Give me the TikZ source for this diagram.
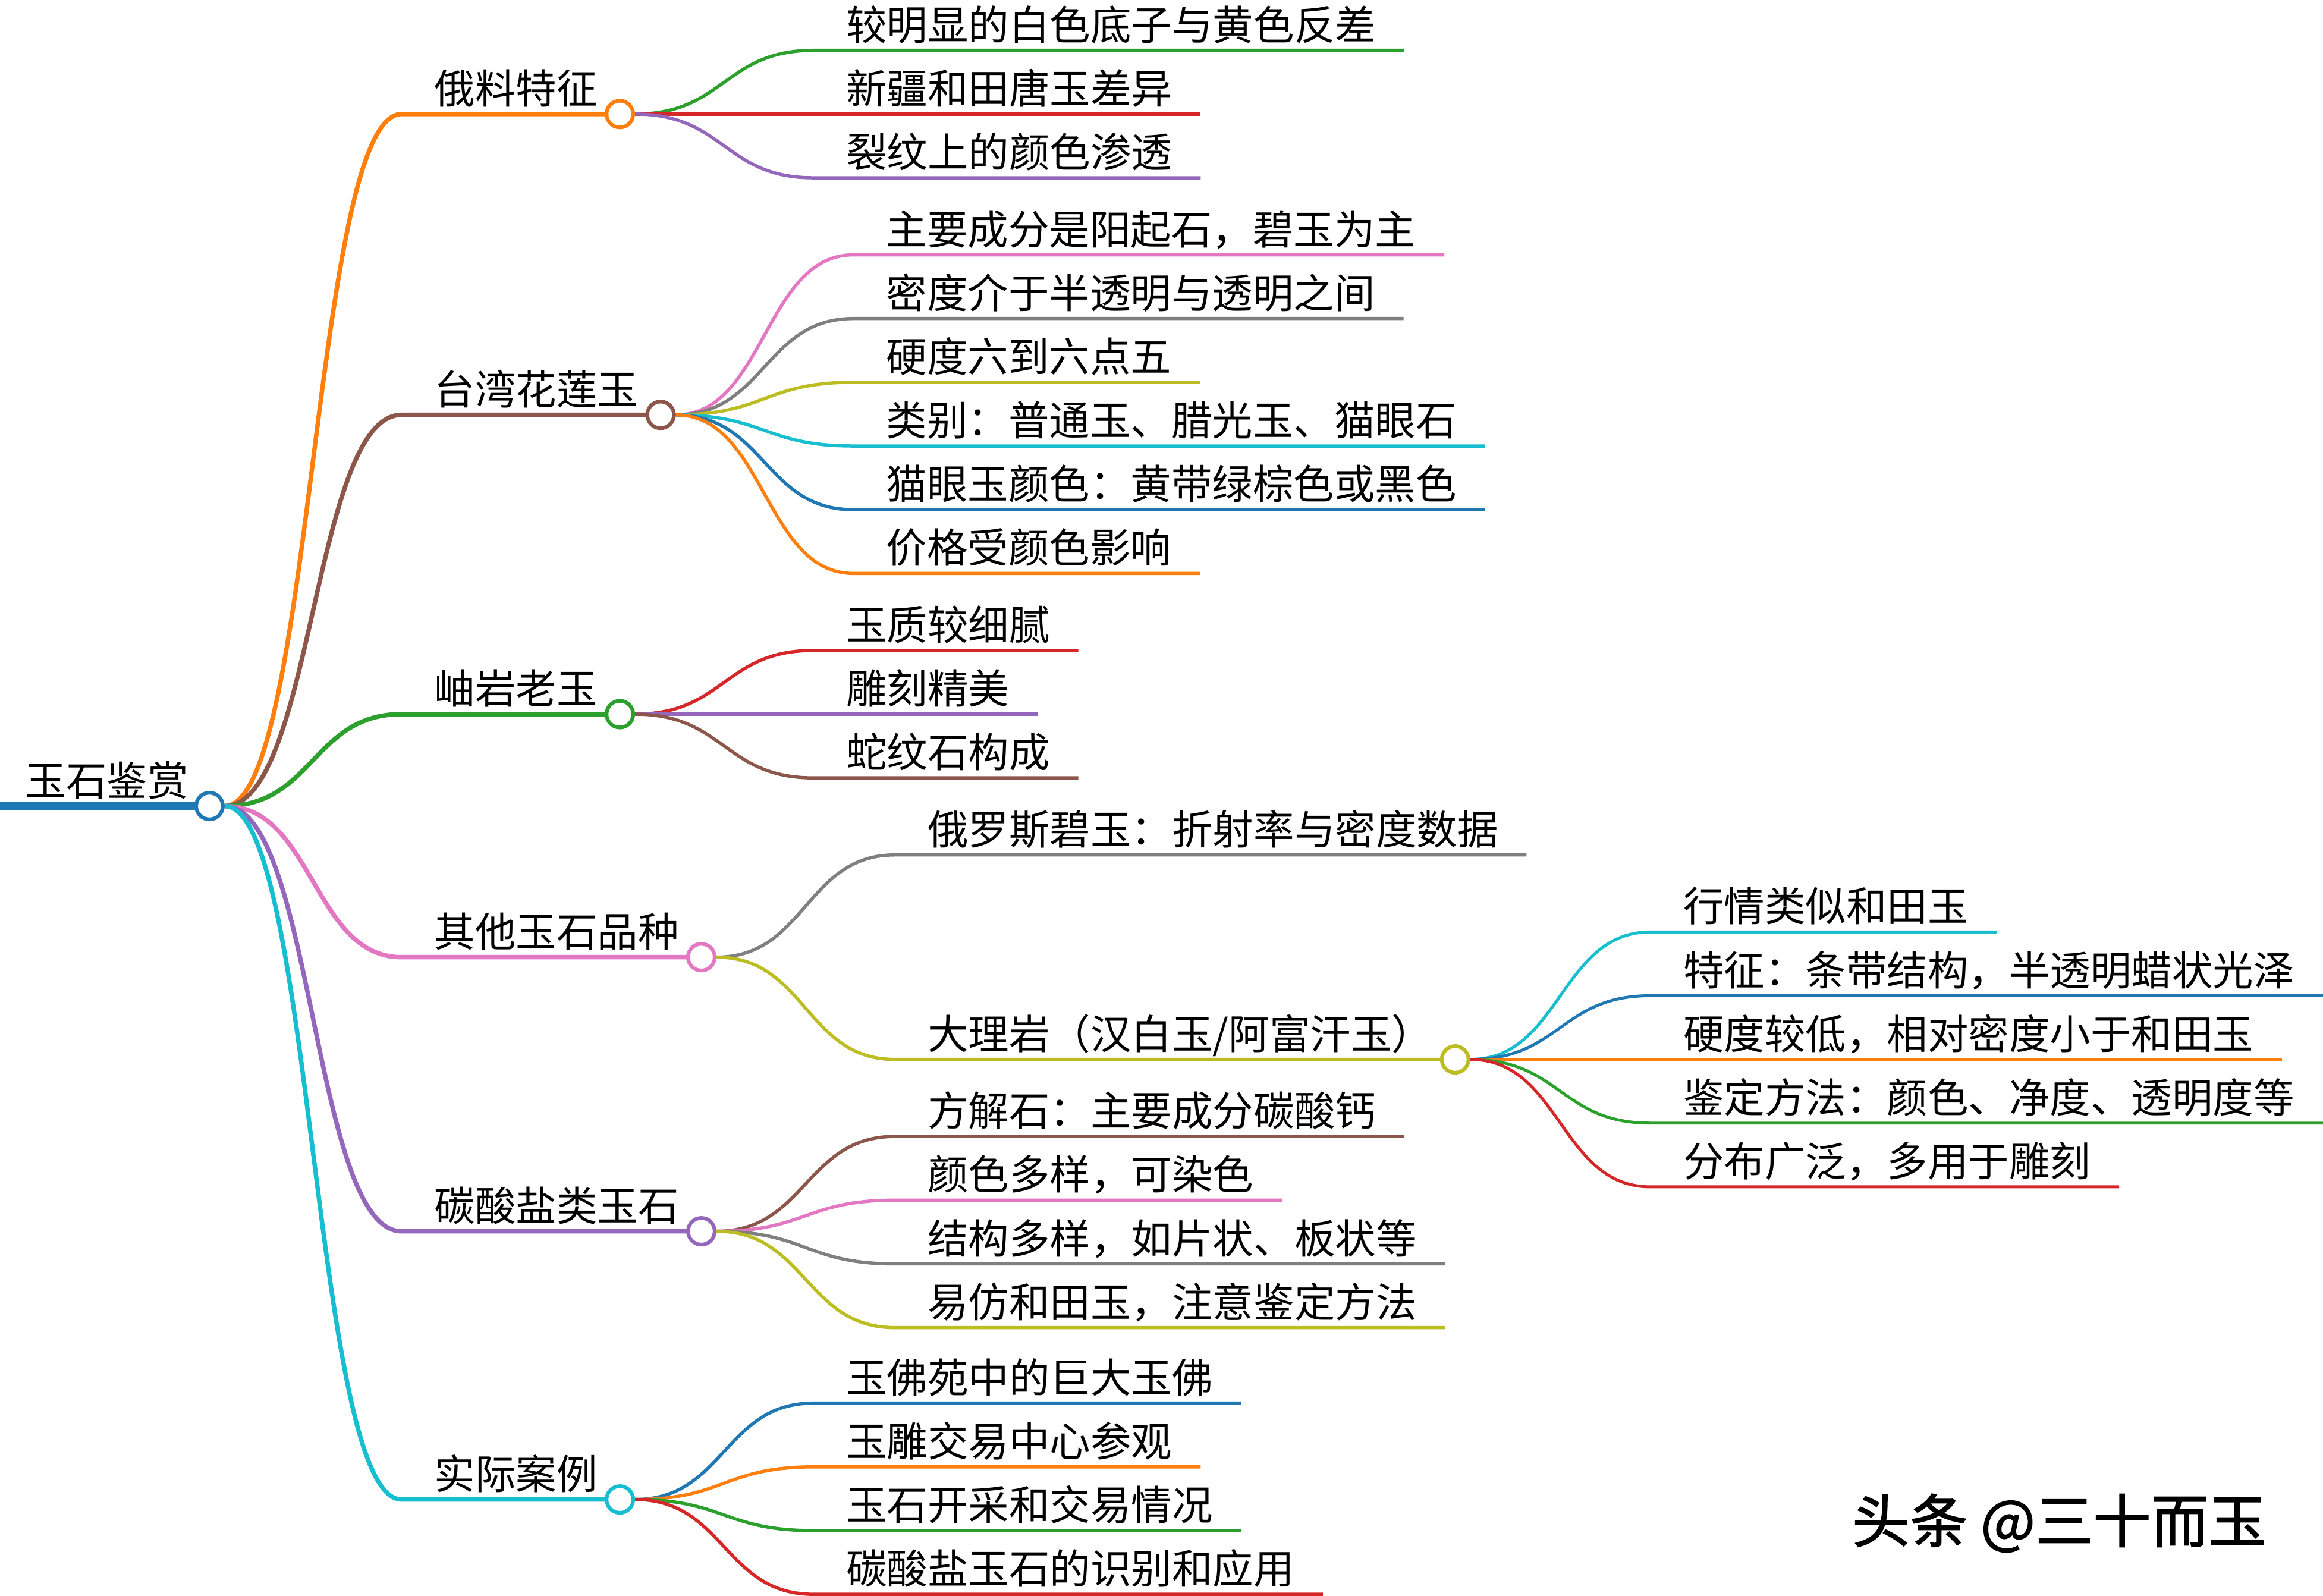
\documentclass[tikz,border=0pt]{standalone}
\usepackage{fontspec}
\setmainfont{Noto Sans CJK SC}
\newfontfamily\wmfont{Noto Sans CJK SC}[FakeBold=1.6]
\usetikzlibrary{calc}
\pgfdeclarelayer{lines}
\pgfsetlayers{lines,main}

\definecolor{c1}{rgb}{0.122,0.467,0.706}
\definecolor{c2}{rgb}{1.000,0.498,0.055}
\definecolor{c3}{rgb}{0.173,0.627,0.173}
\definecolor{c4}{rgb}{0.839,0.153,0.157}
\definecolor{c5}{rgb}{0.580,0.404,0.741}
\definecolor{c6}{rgb}{0.549,0.337,0.294}
\definecolor{c7}{rgb}{0.890,0.467,0.761}
\definecolor{c8}{rgb}{0.498,0.498,0.498}
\definecolor{c9}{rgb}{0.737,0.741,0.133}
\definecolor{c10}{rgb}{0.090,0.745,0.812}

\def\gap{7}

% #1 parent, #2 name, #3 text x, #4 line y, #5 colour, #6 width, #7 text
\newcommand{\leaf}[7]{
    \node[txt] (#2) at (#3,#4-\gap) {#7};
    \coordinate (#2-s) at (#3-22,#4);
    \coordinate (#2-e) at ([shift={(19,\gap)}]#2.base east);
    \begin{pgfonlayer}{lines}
        \draw[#6, color=#5] let \p1=(#1.east), \p2=(#2-s) in
            (\p1) .. controls ({(\x1+\x2)/2},\y1) and ({(\x1+\x2)/2},\y2) .. (\p2) -- (#2-e);
    \end{pgfonlayer}
}

\newcommand{\hub}[7]{
    \node[txt] (#2) at (#3,#4-\gap) {#7};
    \coordinate (#2-s) at (#3-22,#4);
    \node[dot, draw=#5] (#2-c) at ([shift={(15,\gap)}]#2.base east) {};
    \begin{pgfonlayer}{lines}
        \draw[#6, color=#5] let \p1=(#1.east), \p2=(#2-s) in
            (\p1) .. controls ({(\x1+\x2)/2},\y1) and ({(\x1+\x2)/2},\y2) .. (\p2) -- (#2-c.center);
    \end{pgfonlayer}
}

\begin{document}
\begin{tikzpicture}[x=1pt, y=-1pt]
    \tikzstyle{every node} = [font=\fontsize{27.5}{30}\selectfont, inner sep=0pt]
    \tikzstyle{txt} = [anchor=base west]
    \tikzstyle{dot} = [circle, fill=white, line width=2.5pt, minimum size=18pt]
    \tikzstyle{wm} = [anchor=base west, font=\fontsize{39}{42}\selectfont\wmfont]
    \tikzstyle{l0} = [line width=6pt]
    \tikzstyle{l1} = [line width=3pt]
    \tikzstyle{l2} = [line width=2.2pt]
    \tikzstyle{l3} = [line width=2pt]

    \useasboundingbox (0,0) rectangle (1568,1077);

    % root
    \node[txt] (root) at (17,544-\gap) {玉石鉴赏};
    \node[dot, draw=c1] (root-c) at ([shift={(14,\gap)}]root.base east) {};
    \coordinate (root-s) at (0,544);
    \begin{pgfonlayer}{lines}
        \draw[l0, color=c1] (root-s) -- (root-c.center);
    \end{pgfonlayer}

    % main branches
    \hub{root-c}{oil}{293}{77}{c2}{l1}{俄料特征}
    \hub{root-c}{tw}{293}{280}{c6}{l1}{台湾花莲玉}
    \hub{root-c}{xy}{293}{482}{c3}{l1}{岫岩老玉}
    \hub{root-c}{oth}{293}{646}{c7}{l1}{其他玉石品种}
    \hub{root-c}{carb}{293}{831}{c5}{l1}{碳酸盐类玉石}
    \hub{root-c}{case}{293}{1012}{c10}{l1}{实际案例}

    \foreach[count=\i] \y/\col/\lab in {34/c3/较明显的白色底子与黄色反差, 77/c4/新疆和田唐玉差异, 120/c5/裂纹上的颜色渗透} {
        \leaf{oil-c}{oil\i}{571}{\y}{\col}{l2}{\lab}
    }

    \foreach[count=\i] \y/\col/\lab in {172/c7/主要成分是阳起石，碧玉为主, 215/c8/密度介于半透明与透明之间, 258/c9/硬度六到六点五,
            301/c10/类别：普通玉、腊光玉、猫眼石, 344/c1/猫眼玉颜色：黄带绿棕色或黑色, 387/c2/价格受颜色影响} {
        \leaf{tw-c}{tw\i}{598}{\y}{\col}{l2}{\lab}
    }

    \foreach[count=\i] \y/\col/\lab in {439/c4/玉质较细腻, 482/c5/雕刻精美, 525/c6/蛇纹石构成} {
        \leaf{xy-c}{xy\i}{571}{\y}{\col}{l2}{\lab}
    }

    \leaf{oth-c}{oth1}{626}{577}{c8}{l2}{俄罗斯碧玉：折射率与密度数据}
    \hub{oth-c}{marb}{626}{715}{c9}{l2}{大理岩（汉白玉/阿富汗玉）}

    \foreach[count=\i] \y/\col/\lab in {629/c10/行情类似和田玉, 672/c1/特征：条带结构，半透明蜡状光泽, 715/c2/硬度较低，相对密度小于和田玉,
            758/c3/鉴定方法：颜色、净度、透明度等, 801/c4/分布广泛，多用于雕刻} {
        \leaf{marb-c}{marb\i}{1136}{\y}{\col}{l3}{\lab}
    }

    \foreach[count=\i] \y/\col/\lab in {767/c6/方解石：主要成分碳酸钙, 810/c7/颜色多样，可染色, 853/c8/结构多样，如片状、板状等, 896/c9/易仿和田玉，注意鉴定方法} {
        \leaf{carb-c}{carb\i}{626}{\y}{\col}{l2}{\lab}
    }

    \foreach[count=\i] \y/\col/\lab in {947/c1/玉佛苑中的巨大玉佛, 990/c2/玉雕交易中心参观, 1033/c3/玉石开采和交易情况, 1076/c4/碳酸盐玉石的识别和应用} {
        \leaf{case-c}{case\i}{571}{\y}{\col}{l2}{\lab}
    }

    % watermark
    \node[wm] (mark) at (1250,1041) {头条 @三十而玉};
\end{tikzpicture}
\end{document}
